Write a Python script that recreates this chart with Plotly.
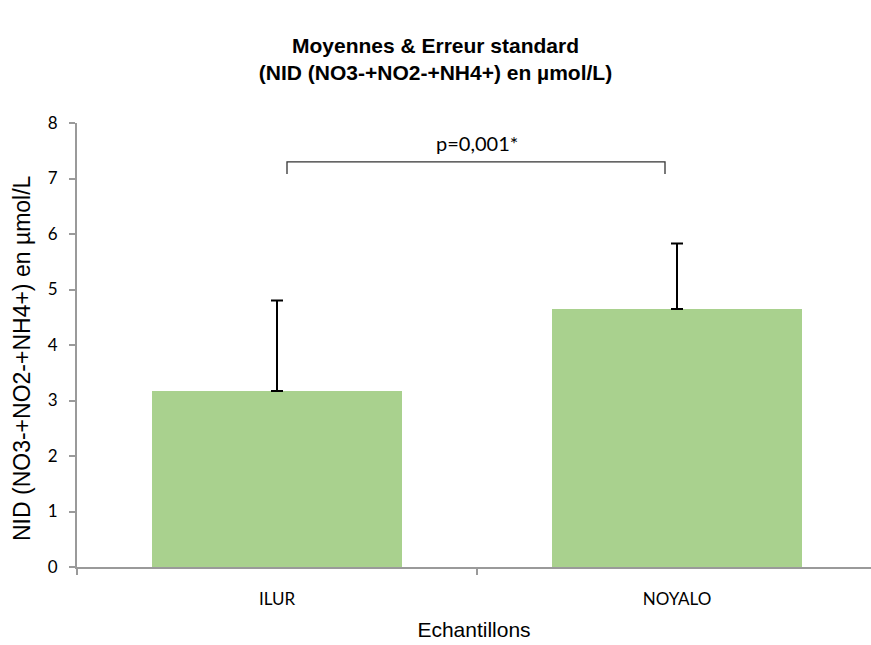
import plotly.graph_objects as go

# Sample sites, mean NID values and their standard errors (µmol/L)
categories = ["ILUR", "NOYALO"]
means = [3.17, 4.65]
std_errors = [1.63, 1.18]

# Significance bracket between the two sites
p_label = "p=0,001*"
bracket_y = 7.30
bracket_drop = 7.08
bracket_x = [0.025, 0.97]

y_title = "NID (NO3-+NO2-+NH4+) en µmol/L"

tick_font = dict(family="Lato, 'Open Sans', sans-serif", size=17, color="#000000")
axis_color = "#9a9a9a"
arial = "Liberation Sans, Arial, sans-serif"

# Plot-area geometry in pixels (used to place the rotated axis title)
W, H = 871, 645
M_L, M_R, M_T, M_B = 77, 0, 123, 78
plot_w = W - M_L - M_R
plot_h = H - M_T - M_B

fig = go.Figure()
fig.add_trace(go.Bar(
    x=categories,
    y=means,
    width=0.625,
    marker=dict(color="#A9D18E", line=dict(width=0)),
    error_y=dict(
        type="data",
        symmetric=False,
        array=std_errors,
        arrayminus=[0, 0],
        color="#000000",
        thickness=2,
        width=6,
    ),
    showlegend=False,
))

# Bracket and p-value annotation
fig.add_shape(
    type="path",
    xref="x", yref="y",
    path=(f"M {bracket_x[0]},{bracket_drop} L {bracket_x[0]},{bracket_y} "
          f"L {bracket_x[1]},{bracket_y} L {bracket_x[1]},{bracket_drop}"),
    line=dict(color="#333333", width=1.3),
)
fig.add_annotation(
    x=0.5, y=7.64, xref="x", yref="y",
    text=p_label, showarrow=False,
    font=dict(family="Lato, 'Open Sans', sans-serif", size=20, color="#000000"),
)

# Vertical axis title, placed as a rotated annotation
fig.add_annotation(
    x=(22 - M_L) / plot_w, y=(H - M_B - 358) / plot_h,
    xref="paper", yref="paper",
    xanchor="center", yanchor="middle",
    text=y_title, textangle=-90, showarrow=False,
    font=dict(family=arial, size=23, color="#000000"),
)

fig.update_layout(
    width=W, height=H,
    margin=dict(l=M_L, r=M_R, t=M_T, b=M_B),
    plot_bgcolor="white",
    paper_bgcolor="white",
    title=dict(
        text="Moyennes & Erreur standard<br>(NID (NO3-+NO2-+NH4+) en µmol/L)",
        x=0.5, xanchor="center",
        y=0.918, yanchor="top",
        font=dict(family=arial, size=21, color="#000000", weight="bold"),
    ),
    xaxis=dict(
        type="category",
        range=[-0.5, 1.485],
        tickson="boundaries",
        ticks="outside",
        ticklen=6,
        tickcolor=axis_color,
        tickwidth=1.5,
        showline=True,
        linecolor=axis_color,
        linewidth=2,
        showgrid=False,
        tickfont=tick_font,
        ticklabelstandoff=16,
        title=dict(text="Echantillons", font=dict(family=arial, size=21, color="#000000"), standoff=14),
    ),
    yaxis=dict(
        range=[0, 8],
        tickvals=[0, 1, 2, 3, 4, 5, 6, 7, 8],
        ticks="outside",
        ticklen=6,
        tickcolor=axis_color,
        tickwidth=1.5,
        showline=True,
        linecolor=axis_color,
        linewidth=2,
        showgrid=False,
        zeroline=False,
        tickfont=tick_font,
        ticklabelstandoff=8,
    ),
)

fig.write_html("out.html")
